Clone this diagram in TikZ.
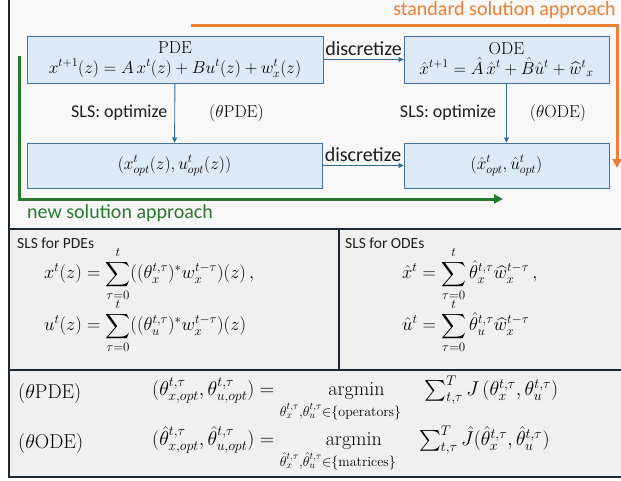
\documentclass[tikz,border=0pt]{standalone}
\usepackage{fix-cm}
\usepackage{amsmath}
\usepackage{fontspec}
\setsansfont{Carlito}
\usetikzlibrary{arrows.meta}

\definecolor{boxfill}{RGB}{220,233,246}
\definecolor{boxline}{RGB}{65,113,156}
\definecolor{flowblue}{RGB}{46,110,150}
\definecolor{stdorange}{RGB}{237,125,49}
\definecolor{newgreen}{RGB}{40,120,45}
\definecolor{framedark}{RGB}{30,40,50}
\definecolor{toppanel}{RGB}{248,248,248}
\definecolor{lowpanel}{RGB}{240,240,240}
\definecolor{labeltext}{RGB}{30,30,30}

\newcommand{\mfont}{\fontsize{17.28}{20}\selectfont}
\newcommand{\sumfont}{\fontsize{18.5}{21}\selectfont}
\newcommand{\probfont}{\fontsize{20}{23}\selectfont}
\newcommand{\lfont}{\sffamily\fontsize{20}{22}\selectfont}
\newcommand{\ofont}{\sffamily\fontsize{18}{20}\selectfont}
\newcommand{\hfont}{\sffamily\fontsize{15.5}{17}\selectfont}

\tikzset{
  eqbox/.style={draw=boxline,fill=boxfill,line width=1pt,align=center,inner sep=0pt,font=\mfont},
  flow/.style={->,draw=flowblue,line width=0.9pt},
  lbl/.style={font=\lfont,text=labeltext,inner sep=1pt},
  optlbl/.style={font=\ofont,text=labeltext,inner sep=1pt},
  eqn/.style={font=\mfont,inner sep=0pt},
  sumeqn/.style={font=\sumfont,inner sep=0pt,anchor=west},
  probeqn/.style={font=\probfont,inner sep=0pt,anchor=west},
  panelline/.style={draw=framedark,line width=2pt},
  approach/.style={line width=3pt,-{Triangle[length=9pt,width=9pt]}},
}

\begin{document}
\begin{tikzpicture}[x=1pt,y=-1pt,>={Triangle[length=5pt,width=5pt]}]
\useasboundingbox (0,0) rectangle (621,480);
% ================= panels =================
\fill[toppanel] (9,0) rectangle (621,229);
\fill[lowpanel] (9,229) rectangle (621,477);
\draw[panelline] (9,0) -- (9,477) -- (621,477);
\draw[panelline,line width=2.5pt] (9,229) -- (621,229);
\draw[panelline] (9,370) -- (621,370);
\draw[panelline] (339,229) -- (339,370);
% ================= flow chart =================
\node[eqbox,minimum width=296,minimum height=47] (pde) at (175,59.5)
  {PDE\\$x^{t+1}(z) = A\,x^{t}(z) + Bu^{t}(z) + w_x^{t}(z)$};
\node[eqbox,minimum width=205,minimum height=47] (ode) at (506.5,59.5)
  {ODE\\$\hat{x}^{t+1} = \hat{A}\,\hat{x}^{t} + \hat{B}\hat{u}^{t} + \widehat{w}^{t}{}_{x}$};
\node[eqbox,minimum width=295,minimum height=45] (pdeopt) at (174.5,165.5)
  {$(x_{opt}^{t}(z), u_{opt}^{t}(z))$};
\node[eqbox,minimum width=205,minimum height=45] (odeopt) at (506.5,165.5)
  {$(\hat{x}_{opt}^{t}, \hat{u}_{opt}^{t})$};
% discretize / optimize arrows
\draw[flow] (pde) -- node[lbl,above=2pt] (disctop) {discretize} (ode);
\draw[flow] (pdeopt) -- node[lbl,above=2pt] (discbot) {discretize} (odeopt);
\draw[flow] (pde) -- node[optlbl,left=6pt] (optleft) {SLS: optimize}
  node[eqn,right=34pt] (thpde) {$(\theta\mathrm{PDE})$} (pdeopt);
\draw[flow] (ode) -- node[optlbl,left=9pt] (optright) {SLS: optimize}
  node[eqn,right=23pt] (thode) {$(\theta\mathrm{ODE})$} (odeopt);
% standard (orange) and new (green) approach
\coordinate (stdstart) at (191,25);
\coordinate (stdend) at (617,168);
\draw[approach,stdorange] (stdstart) -| (stdend);
\node[lbl,text=stdorange,anchor=east] (stdlbl) at (617,10) {standard solution approach};
\coordinate (newstart) at (19,56);
\coordinate (newend) at (503,199);
\draw[approach,newgreen] (newstart) |- (newend);
\node[lbl,text=newgreen,anchor=west] (newlbl) at (26,213) {new solution approach};
% ================= SLS formulas =================
\node[font=\hfont,text=labeltext,anchor=west,inner sep=0pt] (slspde) at (17,243) {SLS for PDEs};
\node[sumeqn] (xpde) at (44,274)
  {$\displaystyle x^{t}(z) = \sum_{\tau=0}^{t} ((\theta_x^{t,\tau})^{*} w_x^{t-\tau})(z)\,,$};
\node[sumeqn] (upde) at (44,326)
  {$\displaystyle u^{t}(z) = \sum_{\tau=0}^{t} ((\theta_u^{t,\tau})^{*} w_x^{t-\tau})(z)$};
\node[font=\hfont,text=labeltext,anchor=west,inner sep=0pt] (slsode) at (345,243) {SLS for ODEs};
\node[sumeqn] (xode) at (402,274)
  {$\displaystyle \hat{x}^{t} = \sum_{\tau=0}^{t} \hat{\theta}_x^{t,\tau}\widehat{w}_x^{t-\tau}\,,$};
\node[sumeqn] (uode) at (402,326)
  {$\displaystyle \hat{u}^{t} = \sum_{\tau=0}^{t} \hat{\theta}_u^{t,\tau}\widehat{w}_x^{t-\tau}$};
% ================= optimization problems =================
\node[probeqn] (pdename) at (18,393) {$(\theta\mathrm{PDE})$};
\node[probeqn] (pdeprob) at (152,399)
  {$(\theta_{x,opt}^{t,\tau}, \theta_{u,opt}^{t,\tau}) =
    \mathop{\hspace{1.6em}\mathrm{argmin}}\limits_{\theta_x^{t,\tau},\theta_u^{t,\tau}\in\{\mathrm{operators}\}}
    \quad\textstyle\sum_{t,\tau}^{T} J\,(\theta_x^{t,\tau}, \theta_u^{t,\tau})$};
\node[probeqn] (odename) at (18,443) {$(\theta\mathrm{ODE})$};
\node[probeqn] (odeprob) at (152,449)
  {$(\hat{\theta}_{x,opt}^{t,\tau}, \hat{\theta}_{u,opt}^{t,\tau}) =
    \mathop{\hspace{1.6em}\mathrm{argmin}}\limits_{\hat{\theta}_x^{t,\tau},\hat{\theta}_u^{t,\tau}\in\{\mathrm{matrices}\}}
    \quad\textstyle\sum_{t,\tau}^{T} \hat{J}(\hat{\theta}_x^{t,\tau}, \hat{\theta}_u^{t,\tau})$};
\end{tikzpicture}
\end{document}
